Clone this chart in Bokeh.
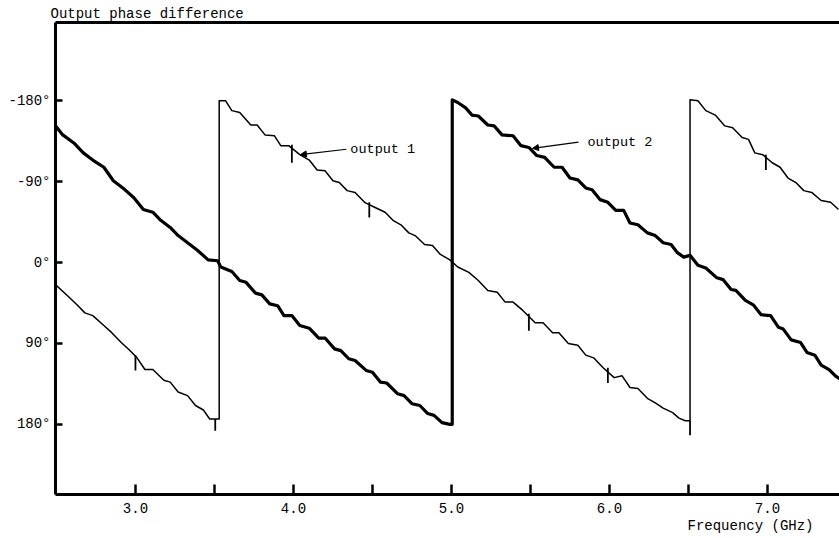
from bokeh.plotting import figure
from bokeh.models import (Range1d, FixedTicker, LinearAxis, Label, Arrow, Title,
                          NormalHead, PrintfTickFormatter, NumeralTickFormatter)
from bokeh.embed import file_html
from bokeh.resources import INLINE

# ---- data ----
# output 1 (thin trace): frequency (GHz) and phase difference (deg)
out1_freq = [2.49, 2.57, 2.63, 2.68, 2.73, 2.80, 2.85, 2.91, 2.96, 3.01, 3.06, 3.11,
             3.18, 3.22, 3.27, 3.33, 3.38, 3.43, 3.47, 3.53, 3.53, 3.57, 3.61, 3.66,
             3.73, 3.77, 3.82, 3.88, 3.92, 3.97, 4.04, 4.10, 4.15, 4.20, 4.25, 4.29,
             4.34, 4.39, 4.45, 4.52, 4.58, 4.63, 4.68, 4.73, 4.77, 4.83, 4.88, 4.93,
             4.96, 4.99, 5.04, 5.11, 5.17, 5.23, 5.29, 5.34, 5.39, 5.45, 5.53, 5.58,
             5.64, 5.68, 5.74, 5.80, 5.85, 5.90, 5.96, 6.03, 6.08, 6.13, 6.18, 6.24,
             6.29, 6.34, 6.40, 6.44, 6.48, 6.51, 6.51, 6.56, 6.61, 6.67, 6.73, 6.78,
             6.84, 6.88, 6.92, 6.97, 7.03, 7.08, 7.13, 7.18, 7.23, 7.28, 7.34, 7.40,
             7.45]
out1_phase = [24, 37, 47, 56, 59, 70, 78, 89, 97, 106, 119, 119,
              131, 133, 144, 148, 159, 164, 174, 174, -180, -180, -169, -167,
              -153, -153, -142, -141, -130, -130, -120, -114, -103, -102, -91, -89,
              -80, -78, -67, -61, -56, -47, -42, -33, -30, -20, -19, -9,
              -6, -3, 5, 11, 20, 31, 33, 44, 44, 53, 67, 67,
              78, 78, 90, 92, 103, 106, 117, 128, 126, 139, 140, 151,
              156, 162, 167, 173, 176, 176, -181, -180, -169, -164, -152, -150,
              -139, -137, -122, -120, -111, -106, -94, -89, -80, -78, -69, -67,
              -59]

# output 2 (thick trace)
out2_freq = [2.49, 2.54, 2.61, 2.67, 2.73, 2.80, 2.86, 2.92, 2.99, 3.05, 3.11, 3.16,
             3.22, 3.27, 3.33, 3.39, 3.46, 3.52, 3.54, 3.61, 3.66, 3.70, 3.76, 3.80,
             3.85, 3.90, 3.94, 3.99, 4.04, 4.10, 4.16, 4.20, 4.26, 4.30, 4.35, 4.39,
             4.46, 4.50, 4.55, 4.59, 4.66, 4.70, 4.75, 4.80, 4.85, 4.89, 4.94, 4.99,
             5.005, 5.005, 5.04, 5.09, 5.13, 5.17, 5.23, 5.27, 5.32, 5.39, 5.44, 5.49,
             5.54, 5.59, 5.65, 5.70, 5.75, 5.80, 5.85, 5.89, 5.94, 5.99, 6.04, 6.09,
             6.13, 6.18, 6.24, 6.29, 6.34, 6.39, 6.43, 6.47, 6.51, 6.56, 6.61, 6.68,
             6.72, 6.77, 6.80, 6.86, 6.91, 6.96, 7.02, 7.07, 7.10, 7.15, 7.21, 7.25,
             7.30, 7.34, 7.39, 7.43, 7.47]
out2_phase = [-153, -142, -133, -122, -114, -106, -91, -83, -72, -59, -56, -47,
              -39, -30, -22, -14, -3, -2, 5, 10, 20, 22, 34, 36,
              46, 48, 59, 59, 70, 73, 84, 84, 96, 98, 107, 109,
              120, 122, 133, 134, 146, 148, 157, 159, 168, 170, 178, 180,
              180, -181, -178, -172, -164, -163, -153, -152, -142, -141, -130, -128,
              -119, -117, -106, -106, -94, -92, -83, -81, -70, -67, -58, -58,
              -44, -42, -33, -30, -22, -20, -11, -6, -8, 3, 6, 17,
              19, 30, 31, 42, 47, 58, 59, 72, 74, 86, 89, 100,
              103, 114, 119, 126, 131]

# small frequency marker spikes on output 1
marker_freq = [3.0, 3.505, 3.99, 4.48, 5.49, 5.99, 6.51, 6.99]
marker_top = [103, 174, -131, -67, 57, 117, 176, -120]
marker_bottom = [120, 187, -111, -50, 76, 134, 192, -103]

x_major = [3.0, 4.0, 5.0, 6.0, 7.0]
x_minor = [3.5, 4.5, 5.5, 6.5]
y_ticks = [-180, -90, 0, 90, 180]

ann_text = ["output 1", "output 2"]
ann_text_x = [4.36, 5.861]
ann_text_y = [-126, -133]
ann_from_x = [4.335, 5.804]
ann_from_y = [-126, -134]
ann_to_x = [4.044, 5.513]
ann_to_y = [-120, -127]

FONT = "Liberation Mono"

p = figure(width=839, height=538,
           x_range=Range1d(2.494, 7.456), y_range=Range1d(258, -267),
           output_backend="svg", toolbar_location=None,
           min_border_left=55, min_border_right=0, min_border_top=22,
           min_border_bottom=44)
p.outline_line_color = None
p.xgrid.visible = False
p.ygrid.visible = False
p.background_fill_color = "white"
p.border_fill_color = "white"

# title (top left)
p.title.text = "Output phase difference"
p.title.align = "left"
p.title.offset = -5
p.title.standoff = 2
p.title.text_font = FONT
p.title.text_font_size = "14px"
p.title.text_font_style = "normal"
p.title.text_color = "black"

# x axis
xa = p.xaxis[0]
xa.ticker = FixedTicker(ticks=x_major, minor_ticks=x_minor)
xa.formatter = NumeralTickFormatter(format="0.0")
xa.axis_line_width = 3
xa.major_tick_in = 10
xa.major_tick_out = 0
xa.minor_tick_in = 10
xa.minor_tick_out = 0
xa.major_tick_line_width = 2.5
xa.minor_tick_line_width = 2.5
xa.major_label_text_font = FONT
xa.major_label_text_font_size = "14px"
xa.major_label_text_color = "black"
xa.major_label_standoff = 8

# y axis
ya = p.yaxis[0]
ya.ticker = FixedTicker(ticks=y_ticks)
ya.formatter = PrintfTickFormatter(format="%d°")
ya.axis_line_width = 3
ya.major_tick_in = 7
ya.major_tick_out = 0
ya.minor_tick_line_color = None
ya.major_tick_line_width = 2.5
ya.major_label_text_font = FONT
ya.major_label_text_font_size = "14px"
ya.major_label_text_color = "black"
ya.major_label_standoff = 5

# top border
top = LinearAxis(ticker=FixedTicker(ticks=[]), axis_line_width=3,
                 major_tick_line_color=None, minor_tick_line_color=None,
                 major_label_text_font_size="0px")
p.add_layout(top, "above")

# x axis caption, bottom right
p.add_layout(Title(text="Frequency (GHz)", align="right", offset=26, standoff=0,
                   text_font=FONT, text_font_size="14px",
                   text_font_style="normal", text_color="black"), "below")

# traces
p.line(out1_freq, out1_phase, line_width=1.5, color="black", line_join="round")
p.line(out2_freq, out2_phase, line_width=3.2, color="black", line_join="round")
p.segment(x0=marker_freq, y0=marker_top, x1=marker_freq, y1=marker_bottom,
          line_width=1.8, color="black")

# annotations
for t, tx, ty, fx, fy, ex, ey in zip(ann_text, ann_text_x, ann_text_y,
                                     ann_from_x, ann_from_y, ann_to_x, ann_to_y):
    p.add_layout(Label(x=tx, y=ty, text=t, text_baseline="middle",
                       text_font=FONT, text_font_size="13.5px", text_color="black"))
    p.add_layout(Arrow(x_start=fx, y_start=fy, x_end=ex, y_end=ey,
                       line_width=1.2, line_color="black",
                       end=NormalHead(size=6, line_color="black",
                                      fill_color="black", line_width=1)))

open("out.html", "w").write(file_html(p, INLINE))
